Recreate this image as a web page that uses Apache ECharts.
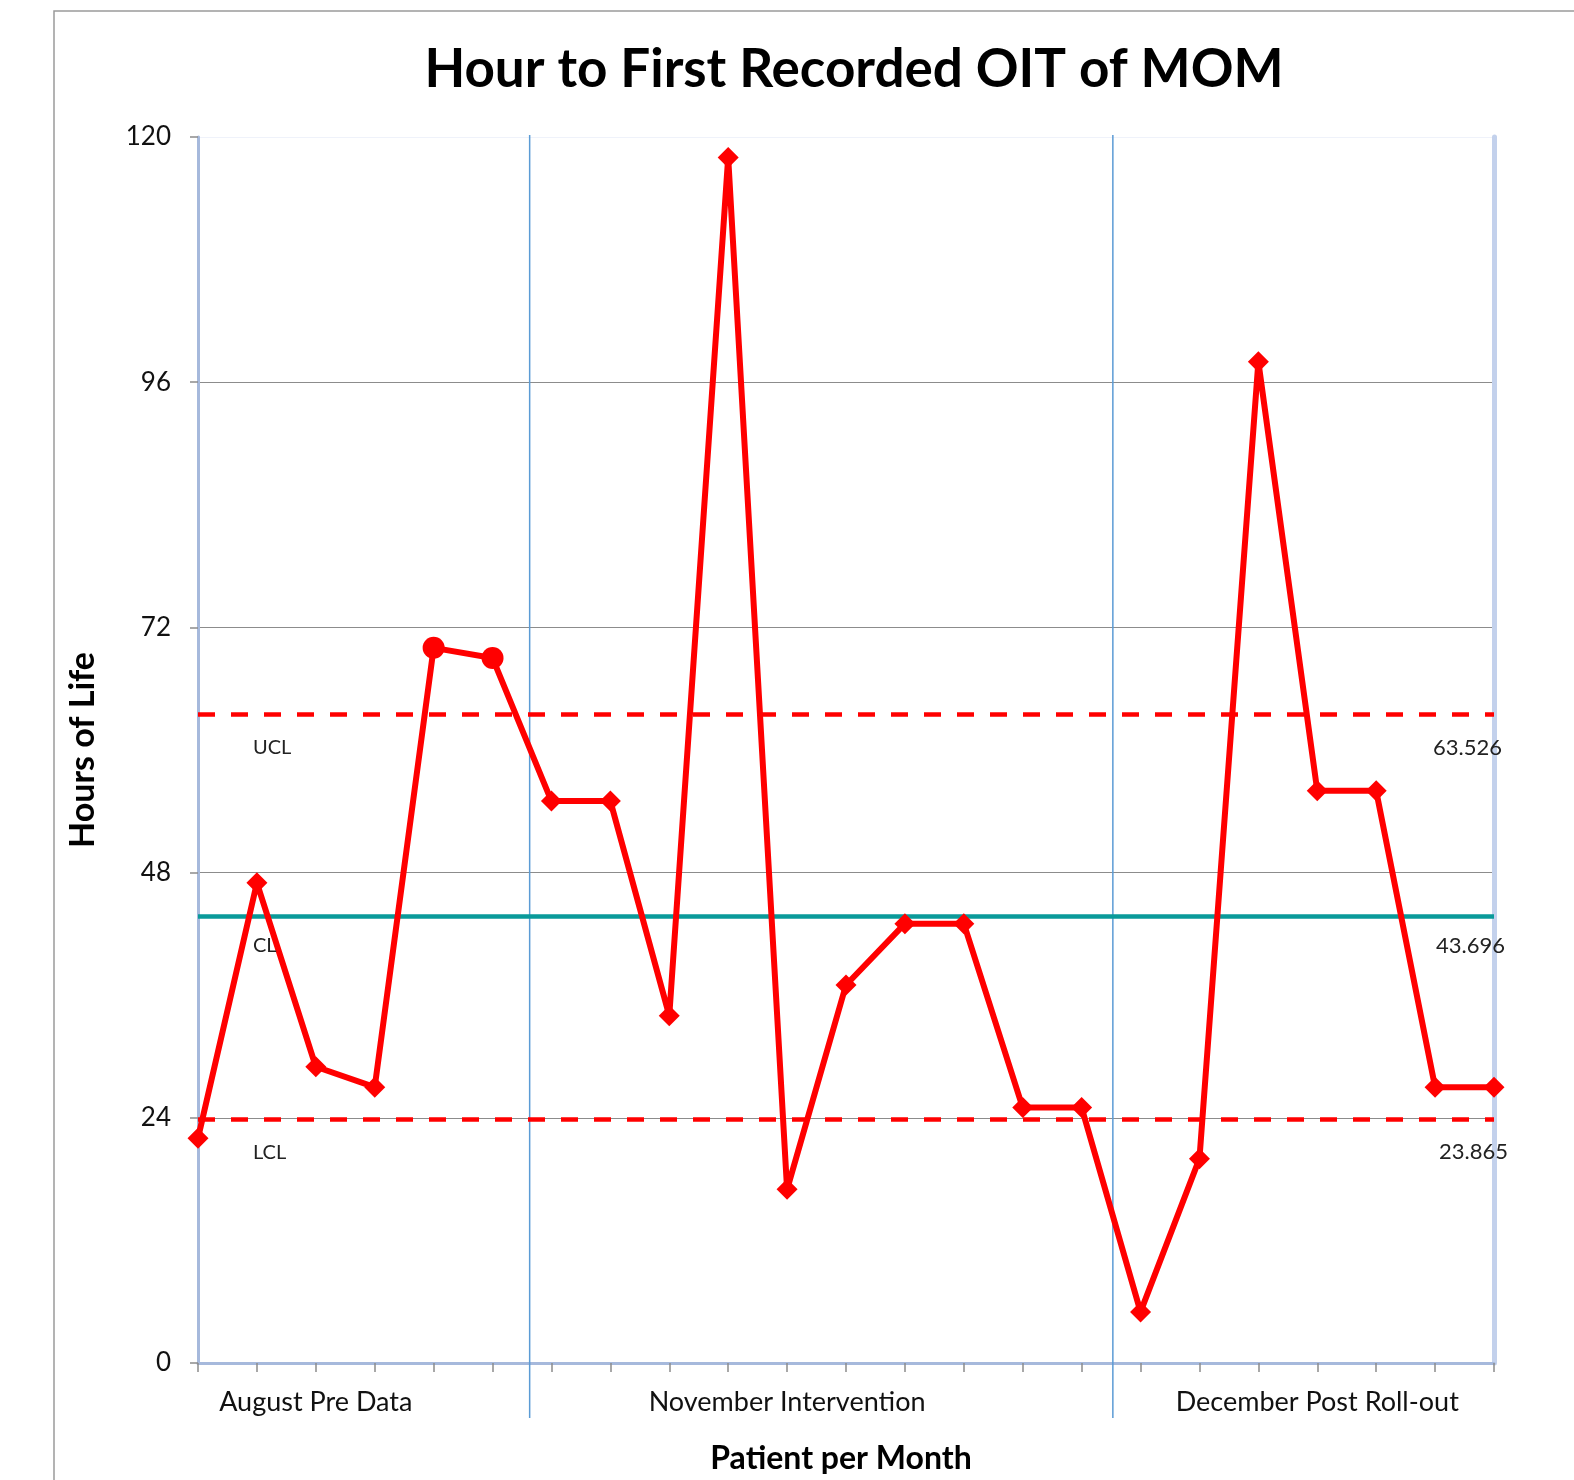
<!DOCTYPE html>
<html>
<head>
<meta charset="utf-8">
<script src="https://cdn.jsdelivr.net/npm/echarts@6/dist/echarts.min.js"></script>
<style>
html,body{margin:0;padding:0;background:#fff;}
#chart{width:1574px;height:1480px;}
</style>
</head>
<body>
<div id="chart"></div>
<script>
// ---- data ----
const chartTitle = 'Hour to First Recorded OIT of MOM';
const xAxisTitle = 'Patient per Month';
const yAxisTitle = 'Hours of Life';
const phaseNames = ['August Pre Data', 'November Intervention', 'December Post Roll-out'];
const phaseLabelAt = [2, 10, 19];          // patient index where each phase name sits
const phaseBreaks = [5.63, 15.53];         // patient index of the phase separators
const hours = [22, 47, 29, 27, 70, 69, 55, 55, 34, 118, 17, 37, 43, 43, 25, 25, 5, 20, 98, 56, 56, 27, 27];
const circledPoints = [4, 5];              // points drawn with round markers
const ucl = 63.526;
const cl = 43.696;
const lcl = 23.865;
const limitNames = ['UCL', 'CL', 'LCL'];
const yTicks = [0, 24, 48, 72, 96, 120];

const FONT = 'Lato, "Open Sans", sans-serif';
const chart = echarts.init(document.getElementById('chart'), null, {renderer: 'canvas'});

const lastIdx = hours.length - 1;

const seriesData = hours.map((v, i) => ({
  value: [i, v],
  symbol: circledPoints.indexOf(i) >= 0 ? 'circle' : 'diamond',
  symbolSize: circledPoints.indexOf(i) >= 0 ? 22 : 21
}));

const option = {
  animation: false,
  title: {
    text: chartTitle,
    left: 849, top: 38, textAlign: 'center',
    textStyle: {fontFamily: FONT, fontWeight: 'bold', fontSize: 53, color: '#000'}
  },
  grid: [
    {left: 198, right: 80, top: 137, bottom: 116},
    {left: 198, right: 80, top: 135, bottom: 62}
  ],
  xAxis: [
    {
      type: 'value', gridIndex: 0, min: 0, max: lastIdx, interval: 1,
      name: xAxisTitle, nameLocation: 'middle', nameGap: 80,
      nameTextStyle: {fontFamily: FONT, fontWeight: 'bold', fontSize: 32, color: '#000', padding: [0, 10, 0, 0]},
      axisLine: {show: true, lineStyle: {color: '#a6b9dc', width: 3}},
      axisTick: {show: true, length: 9, lineStyle: {color: '#8c8c8c', width: 1.5}},
      splitLine: {show: false},
      axisLabel: {
        margin: 26, fontFamily: FONT, fontSize: 27, color: '#111',
        formatter: function (v) {
          const k = phaseLabelAt.indexOf(v);
          return k >= 0 ? phaseNames[k] : '';
        }
      }
    },
    {type: 'value', gridIndex: 1, min: 0, max: lastIdx, show: false}
  ],
  yAxis: [
    {
      type: 'value', gridIndex: 0, min: 0, max: 120, interval: 24,
      name: yAxisTitle, nameLocation: 'middle', nameGap: 98, nameRotate: 90,
      nameTextStyle: {fontFamily: FONT, fontWeight: 'bold', fontSize: 34, color: '#000'},
      axisLine: {show: true, lineStyle: {color: '#a6b9dc', width: 3}},
      axisTick: {show: true, length: 8, lineStyle: {color: '#8c8c8c', width: 1.5}},
      splitLine: {show: true, lineStyle: {color: ['#8c8c8c', '#8c8c8c', '#8c8c8c', '#8c8c8c', '#8c8c8c', '#eff2fa'], width: 1}},
      axisLabel: {margin: 27, fontFamily: FONT, fontSize: 26, color: '#111',
        formatter: function (v) { return yTicks.indexOf(v) >= 0 ? String(v) : ''; }}
    },
    {
      type: 'value', gridIndex: 0, min: 0, max: 120, interval: 24, position: 'right',
      axisLine: {show: true, lineStyle: {color: '#c3d1ec', width: 5}},
      axisTick: {show: false}, axisLabel: {show: false}, splitLine: {show: false}
    },
    {type: 'value', gridIndex: 1, min: 0, max: 1, show: false}
  ],
  series: [
    // phase separators
    ...phaseBreaks.map(b => ({
      type: 'line', xAxisIndex: 1, yAxisIndex: 2, z: 1,
      data: [[b, 0], [b, 1]], symbol: 'none', silent: true,
      lineStyle: {color: '#5b9bd5', width: 1.5}
    })),
    {
      type: 'line', xAxisIndex: 0, yAxisIndex: 0, z: 5,
      data: seriesData,
      lineStyle: {color: '#ff0000', width: 6},
      itemStyle: {color: '#ff0000'},
      markLine: {
        silent: true, symbol: 'none', animation: false,
        label: {show: false},
        data: [
          {yAxis: ucl, lineStyle: {color: '#ff0000', width: 4.5, type: [17, 16]}},
          {yAxis: cl, lineStyle: {color: '#0a9a9a', width: 4.5, type: 'solid'}},
          {yAxis: lcl, lineStyle: {color: '#ff0000', width: 4.5, type: [17, 16]}}
        ]
      }
    }
  ]
};
chart.setOption(option);

// limit labels positioned from the data scale
const limitVals = [ucl, cl, lcl];
const labelDrop = [34, 29, 33];
const gfx = [{
  type: 'rect', silent: true, z: -10,
  shape: {x: 54, y: 11, width: 1700, height: 1700},
  style: {fill: 'none', stroke: '#9a9a9a', lineWidth: 1.5}
}];
limitVals.forEach((val, k) => {
  const pL = chart.convertToPixel({xAxisIndex: 0, yAxisIndex: 0}, [0, val]);
  const pR = chart.convertToPixel({xAxisIndex: 0, yAxisIndex: 0}, [lastIdx, val]);
  gfx.push({
    type: 'text', silent: true, z: 200, x: pL[0] + 55, y: pL[1] + labelDrop[k],
    style: {text: limitNames[k], fontFamily: FONT, fontSize: 20, fill: '#222', textVerticalAlign: 'middle'}
  });
  gfx.push({
    type: 'text', silent: true, z: 200, x: pR[0] + 8 + k * 3, y: pR[1] + labelDrop[k],
    style: {text: val.toFixed(3), fontFamily: FONT, fontSize: 22, fill: '#222', textAlign: 'right', textVerticalAlign: 'middle'}
  });
});
chart.setOption({graphic: gfx});
</script>
</body>
</html>
